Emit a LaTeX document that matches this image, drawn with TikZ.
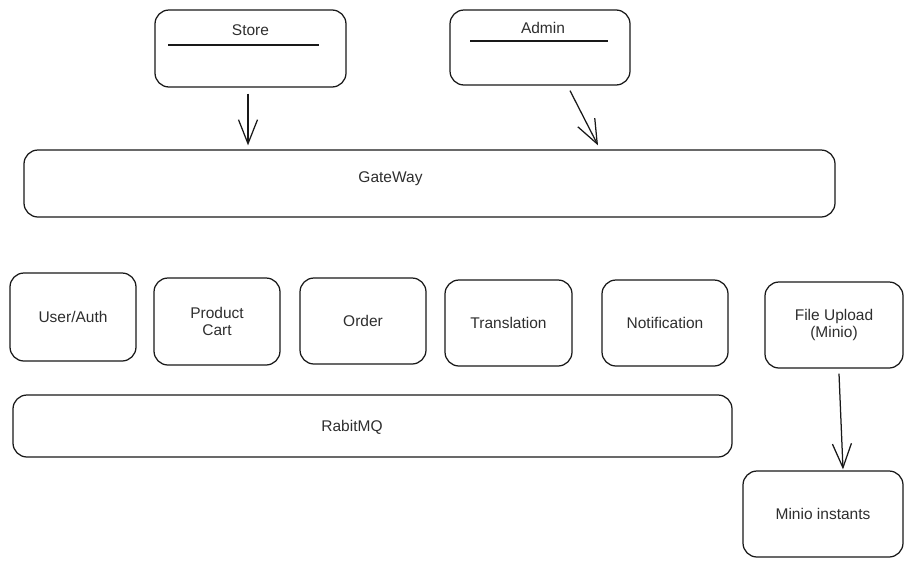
\documentclass[tikz,border=0pt]{standalone}
\usepackage{fontspec}
\setmainfont{Liberation Sans}
\usetikzlibrary{arrows.meta}
\begin{document}
\begin{tikzpicture}[x=1pt,y=-1pt,
  box/.style={draw=black!90, line width=1.25pt, rounded corners=14pt, inner sep=0pt, align=center,
    font=\fontsize{15.5}{17}\selectfont, text=black!82},
  txt/.style={font=\fontsize{15.5}{17}\selectfont, text=black!82, inner sep=0pt},
  arr/.style={draw=black!90, line width=1.25pt, -{Straight Barb[length=24pt,width=19pt,line width=1.25pt]}}]
\useasboundingbox (0,0) rectangle (913,568);
% top clients
\node[box, minimum width=191pt, minimum height=77pt] (store) at (250.5,48.5) {};
\node[txt] (storet) at (250.5,30) {Store};
\draw[line width=1.25pt, black!90] (168,45) -- (319,45);
\node[box, minimum width=180pt, minimum height=75pt] (admin) at (540,47.5) {};
\node[txt] (admint) at (543,28) {Admin};
\draw[line width=1.25pt, black!90] (470,41) -- (608,41);
% gateway
\node[box, minimum width=811pt, minimum height=67pt] (gateway) at (429.5,183.5) {};
\node[txt] (gatewayt) at (390.5,179) {GateWay};
% services
\node[box, minimum width=126pt, minimum height=88pt] (user) at (73,317) {User/Auth};
\node[box, minimum width=126pt, minimum height=87pt] (product) at (217,321.5) {Product\\Cart};
\node[box, minimum width=126pt, minimum height=86pt] (order) at (363,321) {Order};
\node[box, minimum width=127pt, minimum height=86pt] (trans) at (508.5,323) {Translation};
\node[box, minimum width=126pt, minimum height=86pt] (notif) at (665,323) {Notification};
\node[box, minimum width=138pt, minimum height=86pt] (file) at (834,325) {File Upload\\(Minio)};
% rabbitmq
\node[box, minimum width=719pt, minimum height=62pt] (rabbit) at (372.5,426) {};
\node[txt] (rabbitt) at (352,427) {RabitMQ};
% minio
\node[box, minimum width=160pt, minimum height=86pt] (minio) at (823,514) {Minio instants};
% arrows
\draw[arr, shorten <=6pt, shorten >=4pt] ([xshift=-2.5pt]store.south) -- ([xshift=-2.5pt]store.south |- gateway.north);
\draw[arr] ([xshift=30pt,yshift=-5pt]admin.south) -- ([xshift=168.5pt,yshift=4pt]gateway.north);
\draw[arr] ([xshift=5pt,yshift=-5pt]file.south) -- ([xshift=20pt,yshift=1pt]minio.north);
\end{tikzpicture}
\end{document}
